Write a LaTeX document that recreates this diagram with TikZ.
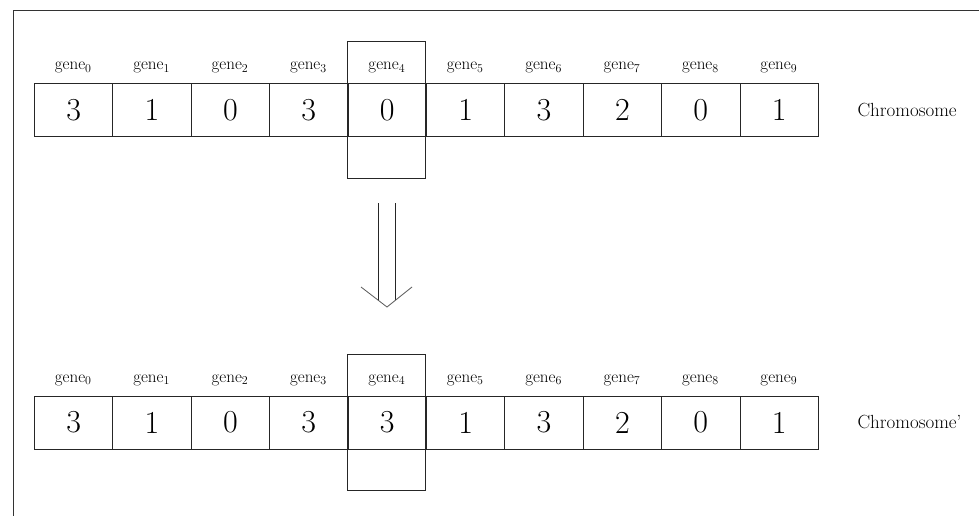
\documentclass[tikz,border=0pt]{standalone}
\usepackage{fontspec}
\setmainfont{Latin Modern Roman}
\begin{document}
\begin{tikzpicture}[x=1pt,y=-1pt,
  cell/.style={draw=black!85, line width=0.8pt, minimum width=78.4pt, minimum height=52.5pt, inner sep=0pt, anchor=north west, font=\fontsize{32}{32}\selectfont},
  glabel/.style={font=\fontsize{17}{17}\selectfont, anchor=base},
  hbox/.style={draw=black!85, line width=0.8pt, anchor=north west, minimum width=78.4pt, inner sep=0pt},
  chrom/.style={font=\fontsize{19}{19}\selectfont, anchor=west},
  frame/.style={draw=black!80, line width=0.8pt},
  arr/.style={draw=black!85, line width=0.8pt}]
\useasboundingbox (0,0) rectangle (979,516);
\coordinate (ftl) at (13,10);
\coordinate (ftr) at (979,10);
\coordinate (fbl) at (13,516);
\draw[frame] (ftr) -- (ftl) -- (fbl);

% gene4 highlight boxes
\node[hbox, minimum height=137pt] (hbA) at (347,41) {};
\node[hbox, minimum height=136pt] (hbB) at (347,354) {};

\foreach \v [count=\i from 0] in {3,1,0,3,0,1,3,2,0,1} {
  \node[cell] (a\i) at ({34+78.4*\i},83.5) {\v};
  \node[glabel] (la\i) at ({73.2+78.4*\i},70) {gene$_{\i}$};
}
\foreach \v [count=\i from 0] in {3,1,0,3,3,1,3,2,0,1} {
  \node[cell] (b\i) at ({34+78.4*\i},396) {\v};
  \node[glabel] (lb\i) at ({73.2+78.4*\i},382) {gene$_{\i}$};
}
\node[chrom] (cA) at (854,110) {Chromosome};
\node[chrom] (cB) at (854,422) {Chromosome'};

% double-line arrow
\coordinate (l1) at (378,203);
\coordinate (l2) at (378,300);
\coordinate (r1) at (395,203);
\coordinate (r2) at (395,300);
\coordinate (tip) at (387,307);
\coordinate (hl) at (361,287);
\coordinate (hr) at (412,287);
\draw[arr] (l1) -- (l2);
\draw[arr] (r1) -- (r2);
\draw[arr, draw=black!65] (hl) -- (tip) -- (hr);
\end{tikzpicture}
\end{document}
